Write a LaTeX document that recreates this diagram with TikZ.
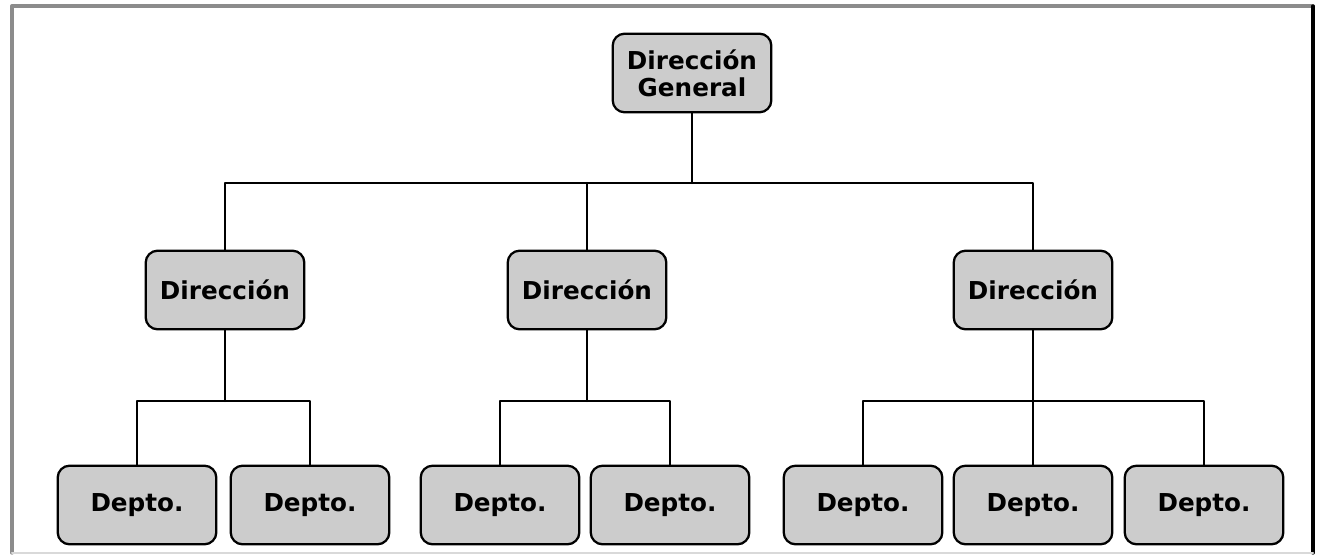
\documentclass[tikz,border=0pt]{standalone}
\usepackage{fontspec}
\setsansfont{DejaVu Sans}
\usetikzlibrary{positioning}

\begin{document}
\begin{tikzpicture}[x=0.75pt, y=-0.75pt, line cap=round, line join=round,
    unit/.style={draw=black, line width=1.7pt, fill=black!20, rounded corners=9pt,
        minimum width=119pt, minimum height=59pt, inner sep=0pt, align=center,
        font=\sffamily\bfseries\fontsize{18.5}{20}\selectfont},
    link/.style={line width=1.7pt}]

        \useasboundingbox (0,0) rectangle (1317,556);

        % Outer frame
        \draw[line width=2.5pt, black!45] (12,553) -- (12,6) -- (1313,6);
        \draw[line width=2.5pt, black] (1313,6) -- (1313,553);
        \draw[line width=1.5pt, black!15] (12,553) -- (1313,553);

        % Top level
        \node[unit] (gen) at (692,73) {Dirección\\General};

        % Second level
        \node[unit] (dirA) at (225,290) {Dirección};
        \node[unit] (dirB) at (587,290) {Dirección};
        \node[unit] (dirC) at (1033,290) {Dirección};

        % Third level
        \node[unit] (depA1) at (137,505) {Depto.};
        \node[unit] (depA2) at (310,505) {Depto.};
        \node[unit] (depB1) at (500,505) {Depto.};
        \node[unit] (depB2) at (670,505) {Depto.};
        \node[unit] (depC1) at (863,505) {Depto.};
        \node[unit] (depC2) at (1033,505) {Depto.};
        \node[unit] (depC3) at (1204,505) {Depto.};

        % Bus junctions
        \coordinate (busTop) at (692,183);
        \coordinate (busA) at (225,401);
        \coordinate (busB) at (587,401);
        \coordinate (busC) at (1033,401);

        % Connectors, top level
        \draw[link] (gen) -- (busTop);
        \draw[link] (dirA.north) |- (busTop) -| (dirC.north);
        \draw[link] (dirB.north) -- (dirB.north |- busTop);

        % Connectors, third level
        \draw[link] (dirA) -- (busA);
        \draw[link] (depA1.north) |- (busA) -| (depA2.north);
        \draw[link] (dirB) -- (busB);
        \draw[link] (depB1.north) |- (busB) -| (depB2.north);
        \draw[link] (dirC) -- (busC);
        \draw[link] (depC1.north) |- (busC) -| (depC3.north);
        \draw[link] (depC2) -- (busC);

\end{tikzpicture}
\end{document}
